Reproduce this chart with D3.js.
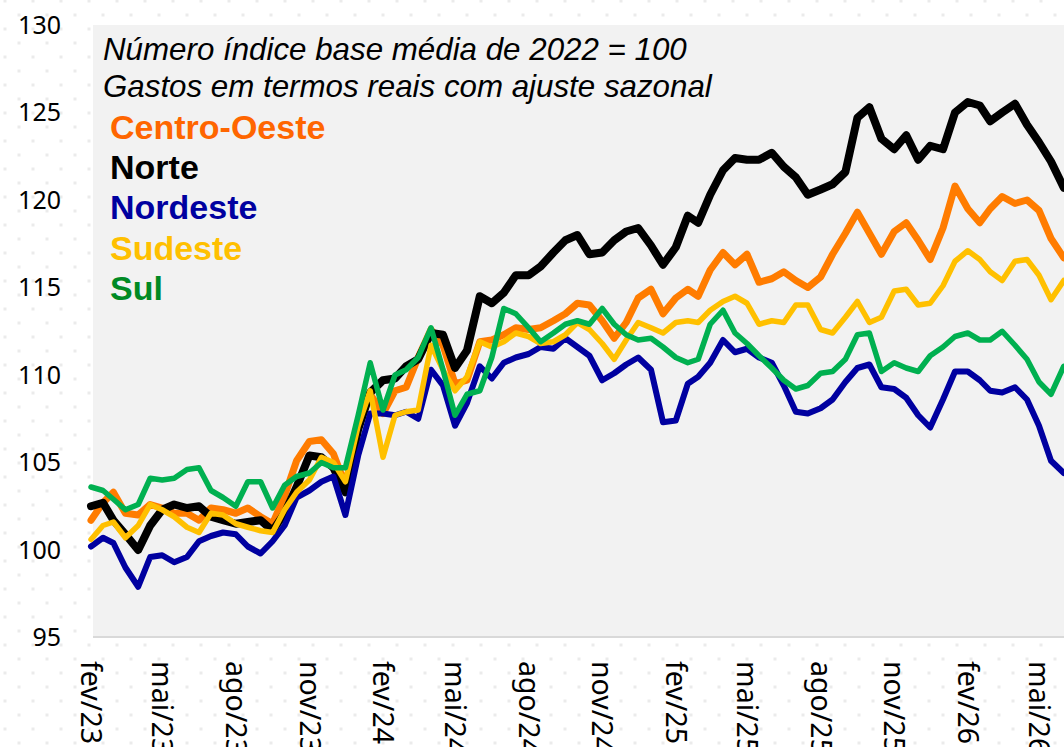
<!DOCTYPE html>
<html>
<head>
<meta charset="utf-8">
<script src="https://cdn.jsdelivr.net/npm/d3@7"></script>
<style>
  body { margin: 0; background: #fff; }
  #chart { width: 1064px; height: 747px; }
</style>
</head>
<body>
<div id="chart"></div>
<script>
// semi-monthly observation dates
const dates = [
  "2023-02-01","2023-02-16","2023-03-01","2023-03-16","2023-04-01","2023-04-16","2023-05-01","2023-05-16",
  "2023-06-01","2023-06-16","2023-07-01","2023-07-16","2023-08-01","2023-08-16","2023-09-01","2023-09-16",
  "2023-10-01","2023-10-16","2023-11-01","2023-11-16","2023-12-01","2023-12-16",
  "2024-01-01","2024-01-16","2024-02-01","2024-02-16","2024-03-01","2024-03-16","2024-04-01","2024-04-16",
  "2024-05-01","2024-05-16","2024-06-01","2024-06-16","2024-07-01","2024-07-16","2024-08-01","2024-08-16",
  "2024-09-01","2024-09-16","2024-10-01","2024-10-16","2024-11-01","2024-11-16","2024-12-01","2024-12-16",
  "2025-01-01","2025-01-16","2025-02-01","2025-02-16","2025-03-01","2025-03-16","2025-04-01","2025-04-16",
  "2025-05-01","2025-05-16","2025-06-01","2025-06-16","2025-07-01","2025-07-16","2025-08-01","2025-08-16",
  "2025-09-01","2025-09-16","2025-10-01","2025-10-16","2025-11-01","2025-11-16","2025-12-01","2025-12-16",
  "2026-01-01","2026-01-16","2026-02-01","2026-02-16","2026-03-01","2026-03-16","2026-04-01","2026-04-16",
  "2026-05-01","2026-05-16","2026-06-01"
];

const regions = ["Centro-Oeste", "Norte", "Nordeste", "Sudeste", "Sul"];

const centroOeste = [
  101.7,102.7,103.3,102.1,102.0,102.6,102.4,102.1,102.1,101.7,102.4,102.3,102.1,102.4,101.9,101.5,103.1,105.1,106.2,106.3,105.5,103.7,
  107.0,108.9,107.8,109.1,109.3,111.0,112.6,111.7,109.5,109.7,111.9,112.0,112.3,112.7,112.6,112.7,113.1,113.5,114.1,114.0,113.1,112.1,113.0,114.4,
  114.9,113.5,114.4,114.9,114.5,116.0,117.0,116.3,116.9,115.3,115.5,115.9,115.4,115.0,115.6,116.9,118.1,119.3,118.1,116.9,118.2,118.7,117.7,116.6,
  118.4,120.8,119.5,118.7,119.5,120.2,119.8,120.0,119.4,117.8,116.7
];
const norte = [
  102.5,102.7,101.7,100.9,100.0,101.4,102.3,102.6,102.4,102.5,101.9,101.7,101.5,101.6,101.7,101.1,102.1,103.6,105.4,105.3,104.7,103.3,
  106.9,109.0,109.7,109.8,110.5,110.9,112.4,112.3,110.4,111.4,114.5,114.1,114.7,115.7,115.7,116.2,117.0,117.7,118.0,116.9,117.0,117.7,118.2,118.4,
  117.4,116.3,117.3,119.1,118.7,120.3,121.7,122.4,122.3,122.3,122.7,121.9,121.3,120.3,120.6,120.9,121.6,124.7,125.3,123.5,122.9,123.7,122.3,123.1,
  122.9,125.0,125.6,125.4,124.5,125.0,125.5,124.3,123.3,122.2,120.7
];
const nordeste = [
  100.2,100.7,100.4,99.0,97.9,99.6,99.7,99.3,99.6,100.5,100.8,101.0,100.9,100.2,99.8,100.5,101.4,103.0,103.4,103.9,104.2,102.0,
  105.4,107.8,107.8,107.7,107.9,107.5,110.3,109.4,107.1,108.4,110.5,109.8,110.7,111.0,111.2,111.6,111.5,112.1,111.6,111.1,109.7,110.1,110.6,111.0,
  110.3,107.3,107.4,109.5,109.9,110.7,112.0,111.3,111.5,111.0,110.7,109.4,107.9,107.8,108.1,108.6,109.6,110.4,110.6,109.3,109.2,108.7,107.7,107.0,
  108.6,110.2,110.2,109.7,109.1,109.0,109.3,108.6,107.1,105.1,104.4
];
const sudeste = [
  100.6,101.4,101.6,100.7,101.4,102.6,102.3,101.9,101.3,101.0,102.1,102.0,101.5,101.3,101.1,101.0,102.3,103.3,104.0,105.3,105.0,103.9,
  107.1,109.1,105.3,107.7,107.9,108.0,111.7,110.3,109.1,109.9,111.9,111.6,111.9,112.4,112.2,111.8,111.9,112.3,113.0,112.6,111.8,110.9,112.0,113.0,
  112.7,112.4,113.0,113.1,113.0,113.7,114.2,114.5,114.1,112.9,113.1,113.0,114.0,114.0,112.6,112.4,113.3,114.2,113.0,113.3,114.8,114.9,114.0,114.1,
  115.1,116.5,117.1,116.6,115.9,115.4,116.5,116.6,115.7,114.3,115.4
];
const sul = [
  103.6,103.4,102.9,102.3,102.6,104.1,104.0,104.1,104.6,104.7,103.4,103.0,102.5,103.9,103.9,102.4,103.7,104.2,104.4,105.0,104.7,104.7,
  107.7,110.7,108.0,110.0,110.3,111.0,112.7,110.3,107.7,108.9,109.1,111.0,113.8,113.5,112.7,111.9,112.4,112.9,113.1,112.9,113.8,112.9,112.3,112.0,
  112.1,111.6,111.0,110.7,110.9,112.9,113.7,112.4,111.8,111.1,110.4,109.7,109.2,109.4,110.1,110.2,110.9,112.3,112.4,110.2,110.7,110.4,110.2,111.1,
  111.6,112.2,112.4,112.0,112.0,112.5,111.7,110.9,109.6,108.9,110.5
];

const yTicks = [95, 100, 105, 110, 115, 120, 125, 130];
const xTicks = ["2023-02-01","2023-05-01","2023-08-01","2023-11-01","2024-02-01","2024-05-01","2024-08-01",
                "2024-11-01","2025-02-01","2025-05-01","2025-08-01","2025-11-01","2026-02-01","2026-05-01"];
const monthNames = ["jan","fev","mar","abr","mai","jun","jul","ago","set","out","nov","dez"];
const titleLines = ["Número índice base média de 2022 = 100", "Gastos em termos reais com ajuste sazonal"];

//styles
const lineColor = {"Centro-Oeste": "#ff7c00", "Norte": "#000000", "Nordeste": "#0000a0", "Sudeste": "#ffc000", "Sul": "#00b050"};
const legendColor = {"Centro-Oeste": "#ff6600", "Norte": "#000000", "Nordeste": "#0000a0", "Sudeste": "#ffc000", "Sul": "#008a24"};
const lineWidth = {"Centro-Oeste": 7, "Norte": 8, "Nordeste": 6, "Sudeste": 5.5, "Sul": 5.5};

const parse = d3.utcParse("%Y-%m-%d");
const seriesValues = [centroOeste, norte, nordeste, sudeste, sul];
const series = regions.map((name, i) => ({
    name: name,
    points: dates.map((d, j) => ({date: parse(d), value: seriesValues[i][j]}))
}));

//dim
const width = 1064;
const height = 747;
const plot = {left: 93, top: 25, right: 1064, bottom: 637};

const svg = d3.select("#chart")
    .append("svg")
    .attr("width", width)
    .attr("height", height);

//dotted background
const pattern = svg.append("defs").append("pattern")
    .attr("id", "dots")
    .attr("patternUnits", "userSpaceOnUse")
    .attr("x", 0)
    .attr("y", -6)
    .attr("width", 28)
    .attr("height", 28);
pattern.append("rect").attr("x", 17.5).attr("y", 19.5).attr("width", 3).attr("height", 3).attr("fill", "#ebebeb");
pattern.append("rect").attr("x", 3.5).attr("y", 5.5).attr("width", 3).attr("height", 3).attr("fill", "#ebebeb");

svg.append("rect")
    .attr("width", width)
    .attr("height", height)
    .attr("fill", "url(#dots)");

svg.append("rect")
    .attr("x", plot.left)
    .attr("y", plot.top)
    .attr("width", plot.right - plot.left)
    .attr("height", plot.bottom - plot.top)
    .attr("fill", "#f2f2f2");

//scales
const xScale = d3.scaleUtc()
    .domain([parse("2023-02-01"), parse("2026-06-01")])
    .range([91, 1063.8]);
const yScale = d3.scaleLinear()
    .domain([95, 130])
    .range([637.5, 25]);

//axes
const xAxis = svg.append("g")
    .attr("transform", `translate(0,${plot.bottom})`)
    .call(d3.axisBottom(xScale)
        .tickValues(xTicks.map(parse))
        .tickSize(0)
        .tickFormat(d => monthNames[d.getUTCMonth()] + "/" + String(d.getUTCFullYear()).slice(2)));
xAxis.select(".domain")
    .attr("d", `M${plot.left},0H${plot.right}`)
    .attr("stroke", "#d9d9d9")
    .attr("stroke-width", 2);
xAxis.selectAll("text")
    .attr("transform", "rotate(90)")
    .attr("x", 24)
    .attr("y", 0)
    .attr("dy", "0.36em")
    .attr("text-anchor", "start")
    .attr("fill", "#000")
    .style("font-family", "'Noto Sans', sans-serif")
    .style("font-size", "28.5px");

const yAxis = svg.append("g")
    .attr("transform", "translate(61,0)")
    .call(d3.axisLeft(yScale).tickValues(yTicks).tickSize(0).tickPadding(0));
yAxis.select(".domain").remove();
yAxis.selectAll("text")
    .attr("fill", "#000")
    .style("font-family", "'Noto Sans', sans-serif")
    .style("font-size", "25px");

//lines
const line = d3.line()
    .x(d => xScale(d.date))
    .y(d => yScale(d.value));

svg.append("g")
    .selectAll("path")
    .data(series)
    .enter()
    .append("path")
        .attr("d", d => line(d.points))
        .attr("fill", "none")
        .attr("stroke", d => lineColor[d.name])
        .attr("stroke-width", d => lineWidth[d.name])
        .attr("stroke-linejoin", "round")
        .attr("stroke-linecap", "round");

//title
svg.append("g")
    .selectAll("text")
    .data(titleLines)
    .enter()
    .append("text")
        .attr("x", 103)
        .attr("y", (d, i) => 60 + i * 37)
        .style("font-family", "'Liberation Sans', Arial, sans-serif")
        .style("font-style", "italic")
        .style("font-size", "31.3px")
        .text(d => d);

//legend
svg.append("g")
    .selectAll("text")
    .data(regions)
    .enter()
    .append("text")
        .attr("x", 110)
        .attr("y", (d, i) => 139 + i * 40.2)
        .attr("fill", d => legendColor[d])
        .style("font-family", "'Liberation Sans', Arial, sans-serif")
        .style("font-weight", "bold")
        .style("font-size", "34px")
        .text(d => d);
</script>
</body>
</html>
